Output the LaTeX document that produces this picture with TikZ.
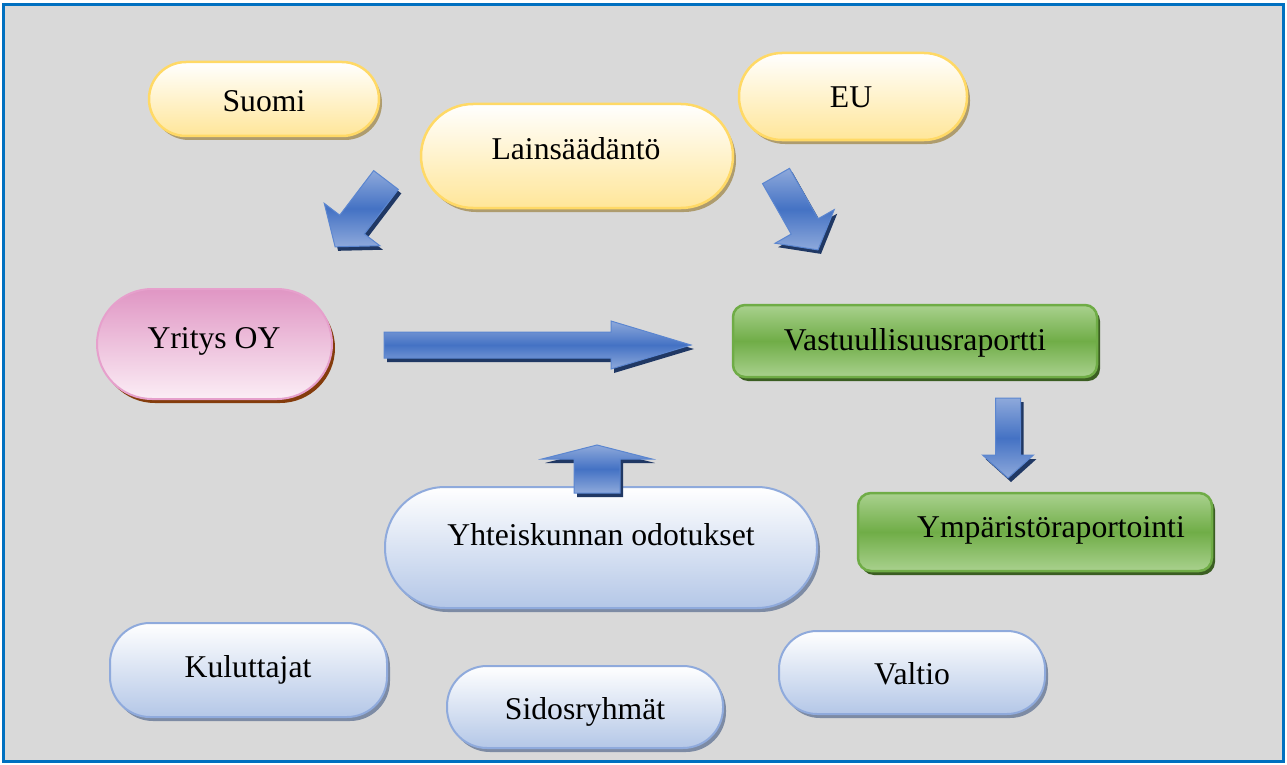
\documentclass[tikz,border=0pt]{standalone}
\usepackage{fontspec}
\setmainfont{Liberation Serif}
\usetikzlibrary{shadows,calc}
\definecolor{frameblue}{HTML}{0070C0}
\definecolor{bggray}{HTML}{D9D9D9}
\definecolor{ylwtop}{HTML}{FFFFFF}
\definecolor{ylwbot}{HTML}{FFE699}
\definecolor{ylwline}{HTML}{FFD966}
\definecolor{ylwshadow}{HTML}{AE9C6E}
\definecolor{pinktop}{HTML}{E096C4}
\definecolor{pinkbot}{HTML}{FBEDF5}
\definecolor{pinkline}{HTML}{E6A0CC}
\definecolor{pinkshadow}{HTML}{843C0C}
\definecolor{grnlight}{HTML}{A9D18E}
\definecolor{grnmid}{HTML}{70AD47}
\definecolor{grnline}{HTML}{6FAC46}
\definecolor{grnshadow}{HTML}{3B5E22}
\definecolor{bluebot}{HTML}{B4C7E7}
\definecolor{blueline}{HTML}{8FAADC}
\definecolor{blueshadow}{HTML}{7D8BA4}
\definecolor{arrowlight}{HTML}{8EA9DB}
\definecolor{arrowmid}{HTML}{4472C4}
\definecolor{arrowline}{HTML}{5B86D0}
\definecolor{arrowdark}{HTML}{203864}
\tikzset{
  boxbase/.style={inner sep=0pt, outer sep=0pt},
  ylwbox/.style={boxbase, draw=ylwline, line width=2.5pt, top color=ylwtop, bottom color=ylwbot,
    drop shadow={shadow xshift=3pt, shadow yshift=-4pt, fill=ylwshadow, opacity=1}},
  pinkbox/.style={boxbase, draw=pinkline, line width=2pt, top color=pinktop, bottom color=pinkbot,
    drop shadow={shadow xshift=3pt, shadow yshift=-4pt, fill=pinkshadow, opacity=1}},
  grnbox/.style={boxbase, draw=grnline, line width=2.5pt, top color=grnlight, bottom color=grnlight, middle color=grnmid,
    drop shadow={shadow xshift=3pt, shadow yshift=-4pt, fill=grnshadow, opacity=1}},
  bluebox/.style={boxbase, draw=blueline, line width=2pt, top color=white, bottom color=bluebot,
    drop shadow={shadow xshift=3pt, shadow yshift=-4pt, fill=blueshadow, opacity=1}},
  lbl/.style={inner sep=0pt, text height=22pt, text depth=8pt, font=\fontsize{31.7}{38}\selectfont},
  arrowshadow/.style={fill=arrowdark},
  arrowbody/.style={draw=arrowline, line width=1pt, line join=miter, top color=arrowlight, bottom color=arrowlight, middle color=arrowmid},
  pics/blockarrow/.style args={#1/#2/#3/#4/#5}{code={
    \path[#5] (0,-#2/2) -- (#1-#4,-#2/2) -- (#1-#4,-#3/2) -- (#1,0) -- (#1-#4,#3/2) -- (#1-#4,#2/2) -- (0,#2/2) -- cycle;
  }}
}
\begin{document}
\begin{tikzpicture}[x=1pt,y=-1pt]
\useasboundingbox (0,0) rectangle (1287,765);
\draw[line width=3pt, draw=frameblue, fill=bggray] (3.5,4.5) rectangle (1283.5,761.5);

% nodes (shapes)
\node[ylwbox, rounded corners=37pt, minimum width=230pt, minimum height=74pt] (suomi) at (264,99) {};
\node[ylwbox, rounded corners=43pt, minimum width=228pt, minimum height=87pt] (eu) at (853,96.5) {};
\node[ylwbox, rounded corners=52pt, minimum width=312pt, minimum height=104pt] (lain) at (577,156) {};
\node[pinkbox, rounded corners=55pt, minimum width=235pt, minimum height=110pt] (yritys) at (214.5,344) {};
\node[grnbox, rounded corners=12pt, minimum width=364pt, minimum height=72pt] (vastuu) at (915,341) {};
\node[grnbox, rounded corners=13pt, minimum width=354pt, minimum height=78pt] (ympar) at (1035,532) {};
\node[bluebox, rounded corners=60pt, minimum width=432pt, minimum height=121pt] (yhteis) at (601,547.5) {};
\node[bluebox, rounded corners=40pt, minimum width=277pt, minimum height=94pt] (kulut) at (248.5,670) {};
\node[bluebox, rounded corners=40pt, minimum width=276pt, minimum height=82pt] (sidos) at (585,707) {};
\node[bluebox, rounded corners=38pt, minimum width=266pt, minimum height=83pt] (valtio) at (912,672.5) {};

% labels
\node[lbl] (tsuomi) at (264,105) {Suomi};
\node[lbl] (teu) at (851,101) {EU};
\node[lbl] (tlain) at (576,153) {Lainsäädäntö};
\node[lbl] (tyritys) at (214,341) {Yritys OY};
\node[lbl] (tvastuu) at (915,343) {Vastuullisuusraportti};
\node[lbl] (tympar) at (1051,530) {Ympäristöraportointi};
\node[lbl] (tyhteis) at (601,538) {Yhteiskunnan odotukset};
\node[lbl] (tkulut) at (248,670) {Kuluttajat};
\node[lbl] (tsidos) at (585,712) {Sidosryhmät};
\node[lbl] (tvaltio) at (912,677) {Valtio};

% block arrows (tail positions)
\coordinate (a1) at (386,180);
\coordinate (a2) at (776,176);
\coordinate (a3) at (384,345);
\coordinate (a4) at (1008,398);
\coordinate (a5) at (597,493);

\pic[rotate=-127.3] at ($(a1)+(3,4)$) {blockarrow={84/31/70/28/arrowshadow}};
\pic[rotate=-127.3] at (a1) {blockarrow={84/31/70/28/arrowbody}};
\pic[rotate=-60.4] at ($(a2)+(3,4)$) {blockarrow={85/31/68/27/arrowshadow}};
\pic[rotate=-60.4] at (a2) {blockarrow={85/31/68/27/arrowbody}};
\pic at ($(a3)+(3,4)$) {blockarrow={307/26/48/80/arrowshadow}};
\pic at (a3) {blockarrow={307/26/48/80/arrowbody}};
\pic[rotate=-90] at ($(a4)+(3,4)$) {blockarrow={80/25/51/23/arrowshadow}};
\pic[rotate=-90] at (a4) {blockarrow={80/25/51/23/arrowbody}};
\pic[rotate=90] at ($(a5)+(3,4)$) {blockarrow={48/46/110/14/arrowshadow}};
\pic[rotate=90] at (a5) {blockarrow={48/46/110/14/arrowbody}};
\end{tikzpicture}
\end{document}
